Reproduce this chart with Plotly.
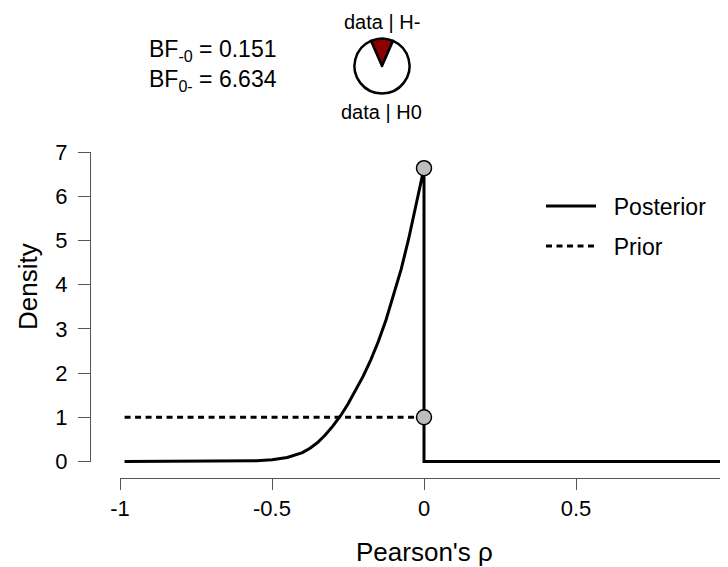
import plotly.graph_objects as go

# posterior density of rho
rho_post = [-0.985, -0.9, -0.8, -0.7, -0.6, -0.55, -0.5, -0.45, -0.4, -0.375,
            -0.35, -0.325, -0.3, -0.275, -0.25, -0.225, -0.2, -0.175, -0.15,
            -0.125, -0.1, -0.075, -0.05, -0.025, 0.0, 0.0, 0.985]
dens_post = [0.0, 0.0, 0.0, 0.0, 0.005, 0.015, 0.04, 0.09, 0.2, 0.3,
             0.43, 0.6, 0.8, 1.03, 1.3, 1.6, 1.93, 2.3, 2.72,
             3.2, 3.75, 4.35, 5.05, 5.85, 6.634, 0.0, 0.0]

# one-sided prior (uniform on [-1, 0])
rho_prior = [-0.985, 0.0]
dens_prior = [1.0, 1.0]

# densities at rho = 0 (posterior, prior)
rho_pts = [0.0, 0.0]
dens_pts = [6.634, 1.0]

bf_m0 = 0.151
bf_0m = 6.634
pie_values = [bf_m0, 1.0]
pie_labels = ["data | H-", "data | H0"]

W, H = 728, 567
OFF = 8  # the page body margin shifts the figure by this much
FONT = "Liberation Sans, Arial, sans-serif"
AXCOL = "#555555"
PAD = "\u00a0\u00a0"  # extra room between legend key and its text


def fx(p):
    return (p - OFF) / W


def fy(p):
    return 1 - (p - OFF) / H


# pixel frame of the R plot (window pixels)
X_LEFT, X_RIGHT = 120, 728      # rho = -1 .. 1
Y_ZERO, Y_SEVEN = 461.5, 152    # density 0 .. 7
unit_y = (Y_ZERO - Y_SEVEN) / 7

fig = go.Figure()

fig.add_trace(go.Scatter(
    x=rho_post, y=dens_post, mode="lines", name=PAD + "Posterior",
    line=dict(color="black", width=3), legend="legend", hoverinfo="skip"))
fig.add_trace(go.Scatter(
    x=rho_prior, y=dens_prior, mode="lines", name=PAD + "Prior",
    line=dict(color="black", width=3, dash="6px,4.5px"), legend="legend2",
    hoverinfo="skip"))
fig.add_trace(go.Scatter(
    x=rho_pts, y=dens_pts, mode="markers", xaxis="x", yaxis="y2",
    marker=dict(size=15, color="#BEBEBE", line=dict(color="black", width=1.5)),
    cliponaxis=False, showlegend=False, hoverinfo="skip"))

share = pie_values[0] / sum(pie_values)
cx, cy, r = 382, 66, 27.5
fig.add_trace(go.Pie(
    values=pie_values, labels=pie_labels, sort=False, direction="clockwise",
    rotation=-180 * share,
    domain=dict(x=[fx(cx - r), fx(cx + r)], y=[fy(cy + r), fy(cy - r)]),
    marker=dict(colors=["#8B0000", "white"], line=dict(color="black", width=2.5)),
    textinfo="none", hoverinfo="skip", showlegend=False))

fig.update_layout(
    width=W, height=H,
    margin=dict(l=0, r=0, t=0, b=0),
    paper_bgcolor="white", plot_bgcolor="rgba(0,0,0,0)",
    font=dict(family=FONT, color="black", size=22),
    xaxis=dict(
        domain=[fx(X_LEFT), fx(X_RIGHT)], range=[-1, 1],
        anchor="free", position=fy(478),
        tickvals=[-1, -0.5, 0, 0.5, 1], ticktext=["-1", "-0.5", "0", "0.5", "1"],
        ticks="outside", ticklen=11, tickwidth=1, tickcolor=AXCOL,
        showline=True, linecolor=AXCOL, linewidth=1,
        showgrid=False, zeroline=False, automargin=False,
        tickfont=dict(size=22, family=FONT)),
    yaxis=dict(
        domain=[0, 1],
        range=[(Y_ZERO - (OFF + H)) / unit_y, (Y_ZERO - OFF) / unit_y],
        visible=False, automargin=False),
    yaxis2=dict(
        domain=[fy(Y_ZERO), fy(Y_SEVEN)], range=[0, 7],
        anchor="free", position=fx(90),
        tickvals=[0, 1, 2, 3, 4, 5, 6, 7],
        ticks="outside", ticklen=12, tickwidth=1, tickcolor=AXCOL,
        ticklabelstandoff=6,
        showline=True, linecolor=AXCOL, linewidth=1,
        showgrid=False, zeroline=False, automargin=False,
        tickfont=dict(size=22, family=FONT)),
    legend=dict(x=fx(541), y=fy(206), xanchor="left", yanchor="middle",
                itemwidth=50,
                font=dict(size=23, family=FONT), bgcolor="rgba(0,0,0,0)"),
    legend2=dict(x=fx(541), y=fy(246), xanchor="left", yanchor="middle",
                 itemwidth=50,
                 font=dict(size=23, family=FONT), bgcolor="rgba(0,0,0,0)"),
    showlegend=True,
)

annotations = [
    dict(text="Density", x=fx(28), y=fy(287), textangle=-90,
         font=dict(size=26)),
    dict(text="Pearson's \u03c1", x=fx(424), y=fy(552), font=dict(size=26)),
    dict(text=f"BF<sub>-0</sub> = {bf_m0:.3f}", x=fx(147), y=fy(50),
         xanchor="left", font=dict(size=23)),
    dict(text=f"BF<sub>0-</sub> = {bf_0m:.3f}", x=fx(147), y=fy(80),
         xanchor="left", font=dict(size=23)),
    dict(text=pie_labels[0], x=fx(cx), y=fy(22), font=dict(size=20)),
    dict(text=pie_labels[1], x=fx(cx), y=fy(112), font=dict(size=20)),
]
for a in annotations:
    a.setdefault("xanchor", "center")
    a.update(xref="paper", yref="paper", showarrow=False, yanchor="middle")
fig.update_layout(annotations=annotations)

fig.write_html("out.html")
